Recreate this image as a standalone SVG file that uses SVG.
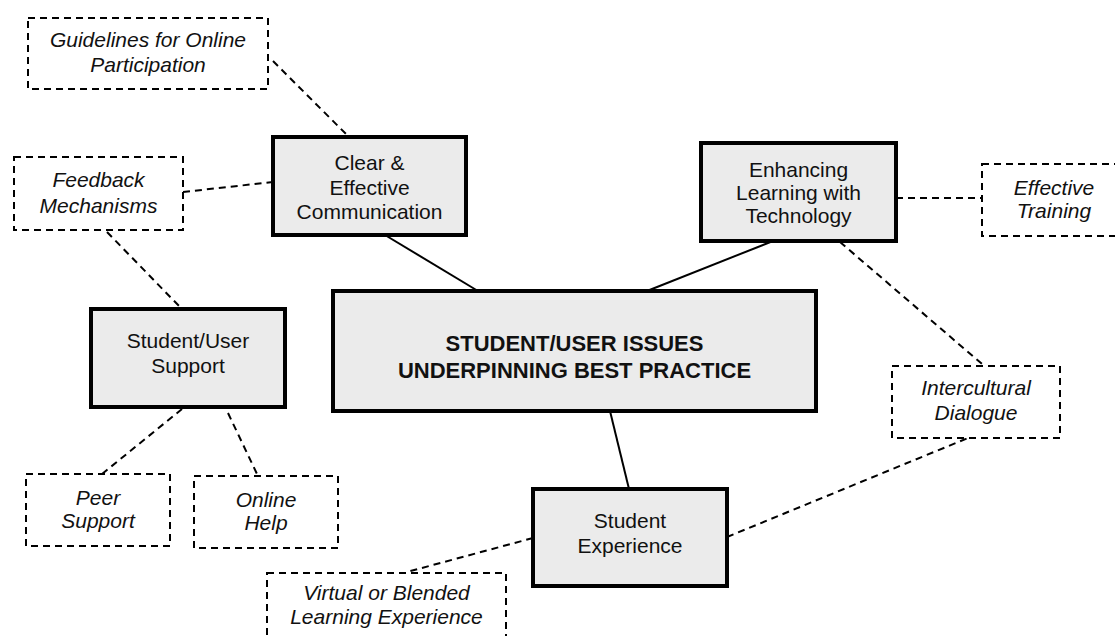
<svg xmlns="http://www.w3.org/2000/svg" width="1115" height="636" viewBox="0 0 1115 636">
<style>
.main{fill:#ebebeb;stroke:#000;stroke-width:4}
.sub{fill:#fff;stroke:#000;stroke-width:2;stroke-dasharray:7 5}
.t{font-family:"Liberation Sans",Arial,sans-serif;font-size:21px;fill:#111;text-anchor:middle}
.i{font-style:italic}
.b{font-weight:bold;font-size:22px}
.solid{stroke:#000;stroke-width:2;fill:none}
.dash{stroke:#000;stroke-width:2;fill:none;stroke-dasharray:7 5}
</style>
<rect width="1115" height="636" fill="#fff"/>
<g id="connectors">
<line class="solid" x1="385" y1="235" x2="478" y2="291"/>
<line class="solid" x1="773" y1="241" x2="647" y2="291"/>
<line class="solid" x1="610" y1="411" x2="629" y2="489"/>
<line class="dash" x1="273" y1="61" x2="349" y2="137"/>
<line class="dash" x1="183" y1="192" x2="273" y2="182"/>
<line class="dash" x1="107" y1="232" x2="180" y2="307"/>
<line class="dash" x1="182" y1="409" x2="102" y2="474"/>
<line class="dash" x1="228" y1="413" x2="257" y2="474"/>
<line class="dash" x1="896" y1="198" x2="982" y2="198"/>
<line class="dash" x1="840" y1="242" x2="982" y2="364"/>
<line class="dash" x1="727" y1="537" x2="968" y2="438"/>
<line class="dash" x1="533" y1="538" x2="407" y2="572"/>
</g>
<g id="guidelines">
<rect class="sub" x="28" y="18" width="240" height="71"/>
<text class="t i" x="148" y="47">Guidelines for Online</text>
<text class="t i" x="148" y="72">Participation</text>
</g>
<g id="feedback">
<rect class="sub" x="14" y="157" width="169" height="73"/>
<text class="t i" x="98.5" y="187">Feedback</text>
<text class="t i" x="98.5" y="213">Mechanisms</text>
</g>
<g id="clear">
<rect class="main" x="273" y="137" width="193" height="98"/>
<text class="t" x="369.5" y="170">Clear &amp;</text>
<text class="t" x="369.5" y="194.5">Effective</text>
<text class="t" x="369.5" y="219">Communication</text>
</g>
<g id="enhancing">
<rect class="main" x="701" y="143" width="195" height="98"/>
<text class="t" x="798.5" y="177">Enhancing</text>
<text class="t" x="798.5" y="200">Learning with</text>
<text class="t" x="798.5" y="223">Technology</text>
</g>
<g id="training">
<rect class="sub" x="982" y="164" width="145" height="72"/>
<text class="t i" x="1054" y="195">Effective</text>
<text class="t i" x="1054" y="218">Training</text>
</g>
<g id="support">
<rect class="main" x="91" y="309" width="194" height="98"/>
<text class="t" x="188" y="348">Student/User</text>
<text class="t" x="188" y="373">Support</text>
</g>
<g id="center">
<rect class="main" x="333" y="291" width="483" height="120"/>
<text class="t b" x="574.5" y="351">STUDENT/USER ISSUES</text>
<text class="t b" x="574.5" y="378">UNDERPINNING BEST PRACTICE</text>
</g>
<g id="intercultural">
<rect class="sub" x="892" y="366" width="168" height="72"/>
<text class="t i" x="976" y="395">Intercultural</text>
<text class="t i" x="976" y="420">Dialogue</text>
</g>
<g id="peer">
<rect class="sub" x="26" y="474" width="144" height="72"/>
<text class="t i" x="98" y="505">Peer</text>
<text class="t i" x="98" y="528">Support</text>
</g>
<g id="help">
<rect class="sub" x="194" y="476" width="144" height="72"/>
<text class="t i" x="266" y="507">Online</text>
<text class="t i" x="266" y="530">Help</text>
</g>
<g id="experience">
<rect class="main" x="533" y="489" width="194" height="97"/>
<text class="t" x="630" y="528">Student</text>
<text class="t" x="630" y="553">Experience</text>
</g>
<g id="virtual">
<rect class="sub" x="267" y="573" width="239" height="80"/>
<text class="t i" x="386.5" y="600">Virtual or Blended</text>
<text class="t i" x="386.5" y="624">Learning Experience</text>
</g>
</svg>
